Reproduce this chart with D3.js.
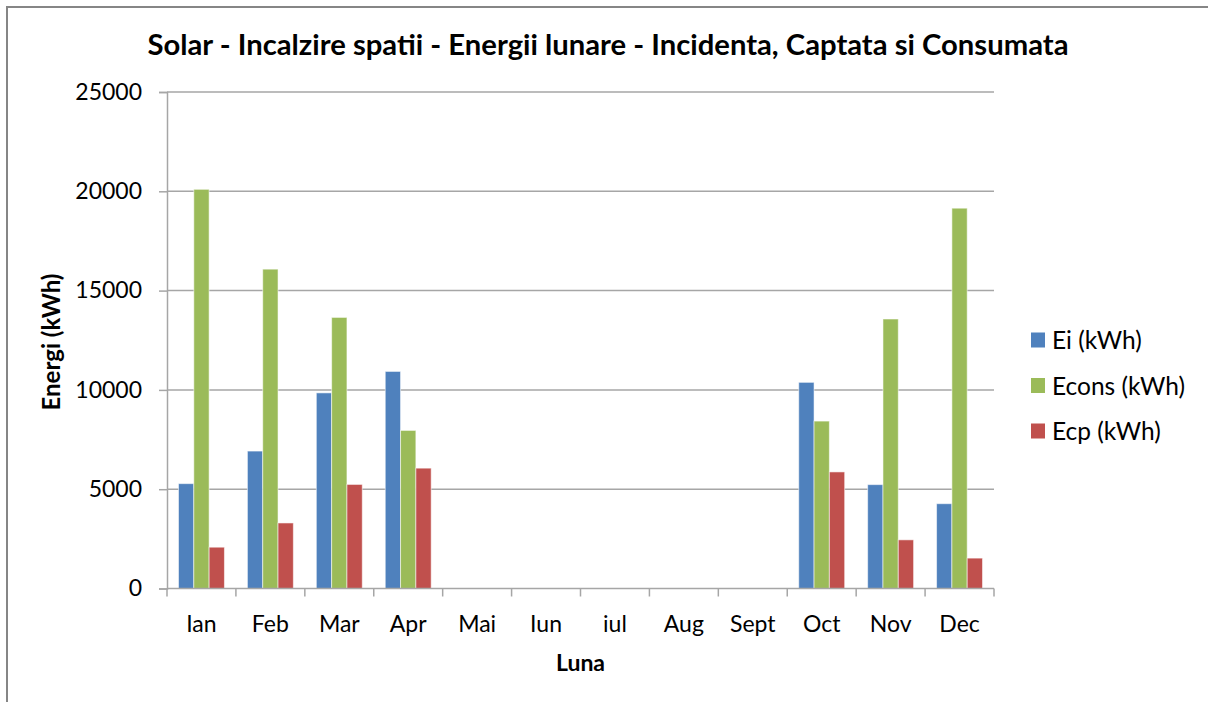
<!DOCTYPE html>
<html>
<head>
<meta charset="utf-8">
<script src="https://cdn.jsdelivr.net/npm/d3@7"></script>
<style>
  html, body { margin: 0; padding: 0; background: #fff; }
  svg { display: block; }
  text { font-family: Lato, "Open Sans", sans-serif; fill: #000; }
</style>
</head>
<body>
<svg id="chart" width="1208" height="702"></svg>
<script>
// Monthly energy values (kWh)
const months = ["Ian", "Feb", "Mar", "Apr", "Mai", "Iun", "iul", "Aug", "Sept", "Oct", "Nov", "Dec"];
const seriesNames = ["Ei (kWh)", "Econs (kWh)", "Ecp (kWh)"];
const ei    = [5280, 6920, 9850, 10930, 0, 0, 0, 0, 0, 10380, 5230, 4270];
const econs = [20100, 16080, 13650, 7960, 0, 0, 0, 0, 0, 8430, 13570, 19150];
const ecp   = [2080, 3300, 5240, 6060, 0, 0, 0, 0, 0, 5870, 2450, 1530];
const yTicks = [0, 5000, 10000, 15000, 20000, 25000];
const colors = ["#4F81BD", "#9BBB59", "#C0504D"];

const series = [ei, econs, ecp];
const svg = d3.select("#chart");

// chart frame
svg.append("path")
  .attr("d", "M7,702 L7,7 L1208,7")
  .attr("fill", "none")
  .attr("stroke", "#868686")
  .attr("stroke-width", 2);

const plot = { left: 167, right: 994, top: 92, bottom: 588.5 };

const x = d3.scaleBand().domain(months).range([plot.left, plot.right]).paddingInner(0).paddingOuter(0);
const groupPad = 0.75 / 4.5; // gap width 150% of bar width, split each side
const xInner = d3.scaleBand().domain(d3.range(series.length))
  .range([0, x.bandwidth() * (1 - 2 * groupPad)]);
const y = d3.scaleLinear().domain([0, 25000]).range([plot.bottom, plot.top]);

// horizontal gridlines
svg.append("g").selectAll("line").data(yTicks.filter(d => d > 0)).join("line")
  .attr("x1", plot.left).attr("x2", plot.right)
  .attr("y1", d => y(d)).attr("y2", d => y(d))
  .attr("stroke", "#a6a6a6").attr("stroke-width", 1.5);

// y axis
const yAxis = svg.append("g")
  .attr("transform", `translate(${plot.left},0)`)
  .call(d3.axisLeft(y).tickValues(yTicks).tickSize(8).tickPadding(17).tickFormat(d3.format("d")));
yAxis.select(".domain").attr("stroke", "#a6a6a6").attr("stroke-width", 1.5);
yAxis.selectAll(".tick line").attr("stroke", "#a6a6a6").attr("stroke-width", 1.5);
yAxis.selectAll(".tick text").style("font-size", "23px").attr("fill", "#000");

// bars
const groups = svg.append("g").selectAll("g").data(series).join("g")
  .attr("fill", (d, i) => colors[i]);
groups.each(function (vals, si) {
  d3.select(this).selectAll("rect").data(vals.map((v, mi) => ({ v, m: months[mi] })).filter(d => d.v > 0))
    .join("rect")
    .attr("x", d => x(d.m) + x.bandwidth() * groupPad + xInner(si))
    .attr("width", xInner.bandwidth())
    .attr("y", d => y(d.v))
    .attr("height", d => y(0) - y(d.v))
    .attr("stroke", "rgba(255,255,255,0.55)")
    .attr("stroke-width", 1);
});

// x axis with category boundary ticks
const xg = svg.append("g");
xg.append("line")
  .attr("x1", plot.left).attr("x2", plot.right)
  .attr("y1", plot.bottom).attr("y2", plot.bottom)
  .attr("stroke", "#a6a6a6").attr("stroke-width", 1.5);
const bounds = months.map(m => x(m)).concat([plot.right]);
xg.selectAll("line.tk").data(bounds).join("line").attr("class", "tk")
  .attr("x1", d => d).attr("x2", d => d)
  .attr("y1", plot.bottom).attr("y2", plot.bottom + 8)
  .attr("stroke", "#a6a6a6").attr("stroke-width", 1.5);
xg.selectAll("text").data(months).join("text")
  .attr("x", d => x(d) + x.bandwidth() / 2)
  .attr("y", 632)
  .attr("text-anchor", "middle")
  .style("font-size", "23px")
  .text(d => d);

// titles
svg.append("text")
  .attr("x", 608).attr("y", 55)
  .attr("text-anchor", "middle")
  .attr("textLength", 921)
  .attr("lengthAdjust", "spacingAndGlyphs")
  .style("font-size", "28px").style("font-weight", "bold")
  .text("Solar - Incalzire spatii - Energii lunare - Incidenta, Captata si Consumata");

svg.append("text")
  .attr("x", (plot.left + plot.right) / 2).attr("y", 671)
  .attr("text-anchor", "middle")
  .style("font-size", "23px").style("font-weight", "bold")
  .text("Luna");

svg.append("text")
  .attr("transform", `translate(60,342) rotate(-90)`)
  .attr("text-anchor", "middle")
  .style("font-size", "24px").style("font-weight", "bold")
  .text("Energi (kWh)");

// legend
const legend = svg.append("g").selectAll("g").data(seriesNames).join("g")
  .attr("transform", (d, i) => `translate(1031,${340 + i * 45.5})`);
legend.append("rect")
  .attr("x", 0).attr("y", -7.5).attr("width", 14).attr("height", 15)
  .attr("fill", (d, i) => colors[i]);
legend.append("text")
  .attr("x", 21).attr("y", 9)
  .style("font-size", "24.5px")
  .text(d => d);
</script>
</body>
</html>
